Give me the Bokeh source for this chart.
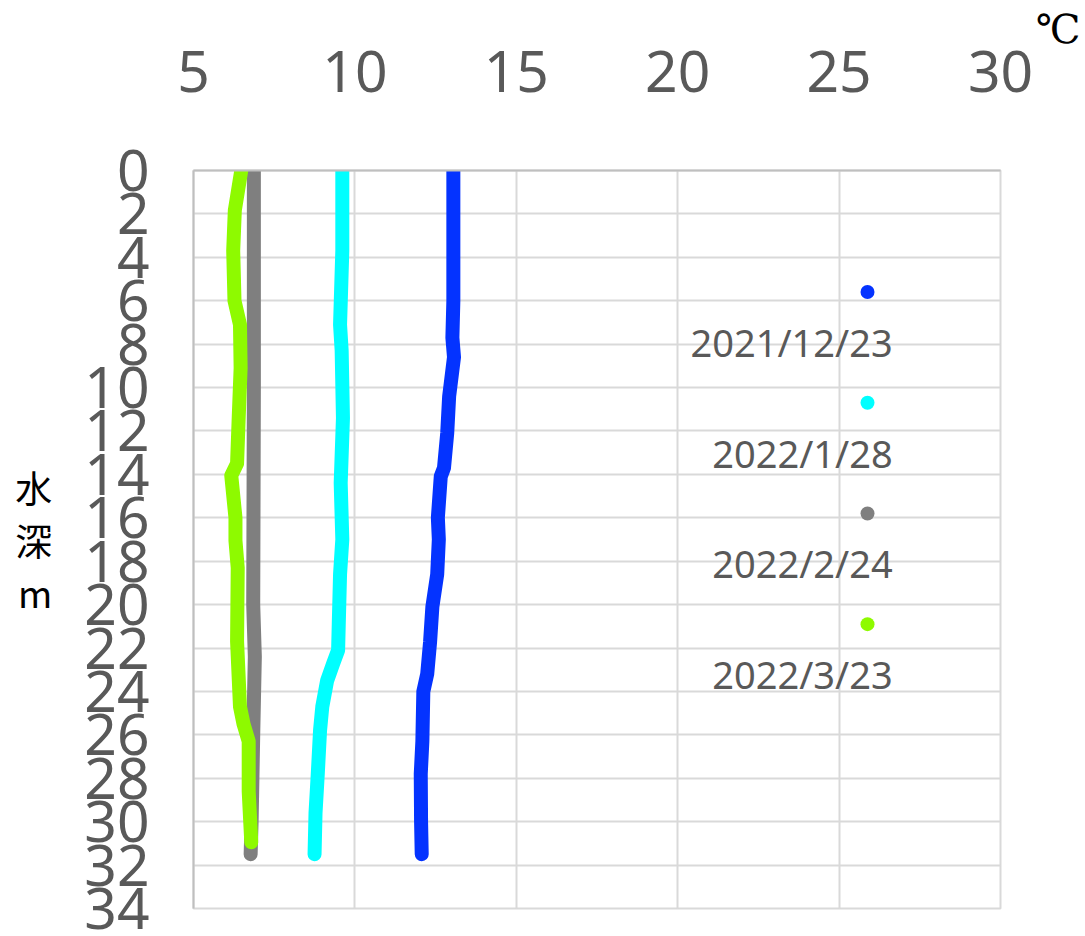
from bokeh.plotting import figure
from bokeh.models import Range1d, FixedTicker
from bokeh.core.properties import value
from bokeh.embed import file_html
from bokeh.resources import INLINE

# ---- data ----
SERIES = ["2021/12/23", "2022/1/28", "2022/2/24", "2022/3/23"]
COLORS = ["#0433FF", "#00FFFF", "#7F7F7F", "#8EFA00"]

depth_1223 = [0, 2, 4, 6, 7.7, 8.6, 10.4, 12.1, 13.7, 14.1, 16.0, 17.0, 18.6, 20.1,
              21.7, 23.2, 24.0, 26.3, 27.8, 30.0, 31.5]
temp_1223 = [13.05, 13.05, 13.05, 13.05, 13.02, 13.07, 12.92, 12.86, 12.76, 12.66, 12.57,
             12.60, 12.55, 12.40, 12.33, 12.24, 12.12, 12.09, 12.04, 12.05, 12.07]

depth_0128 = [0, 3.7, 7.1, 8.3, 11.4, 14.4, 17.0, 18.6, 20.9, 22.1, 22.7, 23.5, 24.7,
              25.8, 27.8, 29.6, 31.5]
temp_0128 = [9.61, 9.61, 9.54, 9.59, 9.63, 9.56, 9.61, 9.54, 9.50, 9.48, 9.33, 9.14,
             8.99, 8.92, 8.85, 8.78, 8.75]

depth_0224 = [0, 10, 20, 22.4, 26, 30, 31.5]
temp_0224 = [6.87, 6.87, 6.85, 6.90, 6.85, 6.80, 6.77]

depth_0323 = [0, 1.84, 3.7, 6.0, 7.1, 9.1, 11.4, 13.5, 14.05, 16.0, 17.05, 18.3, 21.7,
              24.7, 25.5, 26.3, 28.6, 30.95]
temp_0323 = [6.48, 6.28, 6.23, 6.27, 6.44, 6.46, 6.40, 6.35, 6.17, 6.30, 6.30, 6.37,
             6.35, 6.44, 6.55, 6.71, 6.71, 6.79]

X_TICKS = [5, 10, 15, 20, 25, 30]
Y_TICKS = list(range(0, 35, 2))
UNIT_TEXT = "℃"
Y_TITLE = "水\n深\nm"

# ---- layout / style constants ----
TICK_COLOR = "#595959"
GRID_COLOR = "#D9D9D9"
EDGE_COLOR = "#BFBFBF"
TICK_FONT = "Noto Sans"
TICK_SIZE = "57px"
W, H = 1084, 935

p = figure(width=W, height=H, title=UNIT_TEXT, title_location="above",
           x_range=Range1d(X_TICKS[0], X_TICKS[-1]),
           y_range=Range1d(Y_TICKS[-1], Y_TICKS[0]),
           x_axis_location="above",
           output_backend="svg", toolbar_location=None,
           min_border_left=193, min_border_right=W - 1000,
           min_border_top=170, min_border_bottom=H - 908)

# unit mark at top right
p.title.align = "right"
p.title.offset = -80
p.title.standoff = -8
p.title.text_font = "DejaVu Serif"
p.title.text_font_size = "40px"
p.title.text_font_style = "normal"
p.title.text_color = "black"

p.outline_line_color = GRID_COLOR
p.outline_line_width = 2

for ax, ticks in ((p.xaxis, X_TICKS), (p.yaxis, Y_TICKS)):
    ax.ticker = FixedTicker(ticks=ticks)
    ax.major_tick_line_color = None
    ax.minor_tick_line_color = None
    ax.axis_line_color = EDGE_COLOR
    ax.axis_line_width = 2
    ax.major_label_text_font = TICK_FONT
    ax.major_label_text_font_size = TICK_SIZE
    ax.major_label_text_color = TICK_COLOR

p.xaxis.major_label_standoff = 73
p.yaxis.major_label_standoff = 38

p.xgrid.ticker = FixedTicker(ticks=X_TICKS)
p.ygrid.ticker = FixedTicker(ticks=Y_TICKS)
p.grid.grid_line_color = GRID_COLOR
p.grid.grid_line_width = 2

p.yaxis.axis_label = Y_TITLE
p.yaxis.axis_label_orientation = "horizontal"
p.yaxis.axis_label_text_font = "Noto Sans CJK JP"
p.yaxis.axis_label_text_font_size = "37px"
p.yaxis.axis_label_text_font_style = "normal"
p.yaxis.axis_label_text_color = "black"
p.yaxis.axis_label_standoff = 29
p.yaxis.axis_label_text_line_height = 0.97

series = [(temp_1223, depth_1223), (temp_0128, depth_0128),
          (temp_0224, depth_0224), (temp_0323, depth_0323)]
for (t, d), c in zip(series, COLORS):
    p.line(t, d, line_color=c, line_width=14, line_cap="round", line_join="round")

# custom legend: dot above right-aligned label
LEG_DOT_X = 25.88
LEG_LABEL_X = 26.66
LEG_TOP = 5.6
LEG_STEP = 5.1
LEG_LABEL_OFF = 2.3
dot_y = [LEG_TOP + LEG_STEP * i for i in range(len(SERIES))]
lab_y = [y + LEG_LABEL_OFF for y in dot_y]
p.scatter([LEG_DOT_X] * len(SERIES), dot_y, size=14, color=COLORS, line_color=None)
p.text([LEG_LABEL_X] * len(SERIES), lab_y, text=SERIES, text_align="right",
       text_baseline="middle", text_font=value("Noto Sans"), text_font_size="38px",
       text_color=TICK_COLOR)

open("out.html", "w").write(file_html(p, INLINE))
